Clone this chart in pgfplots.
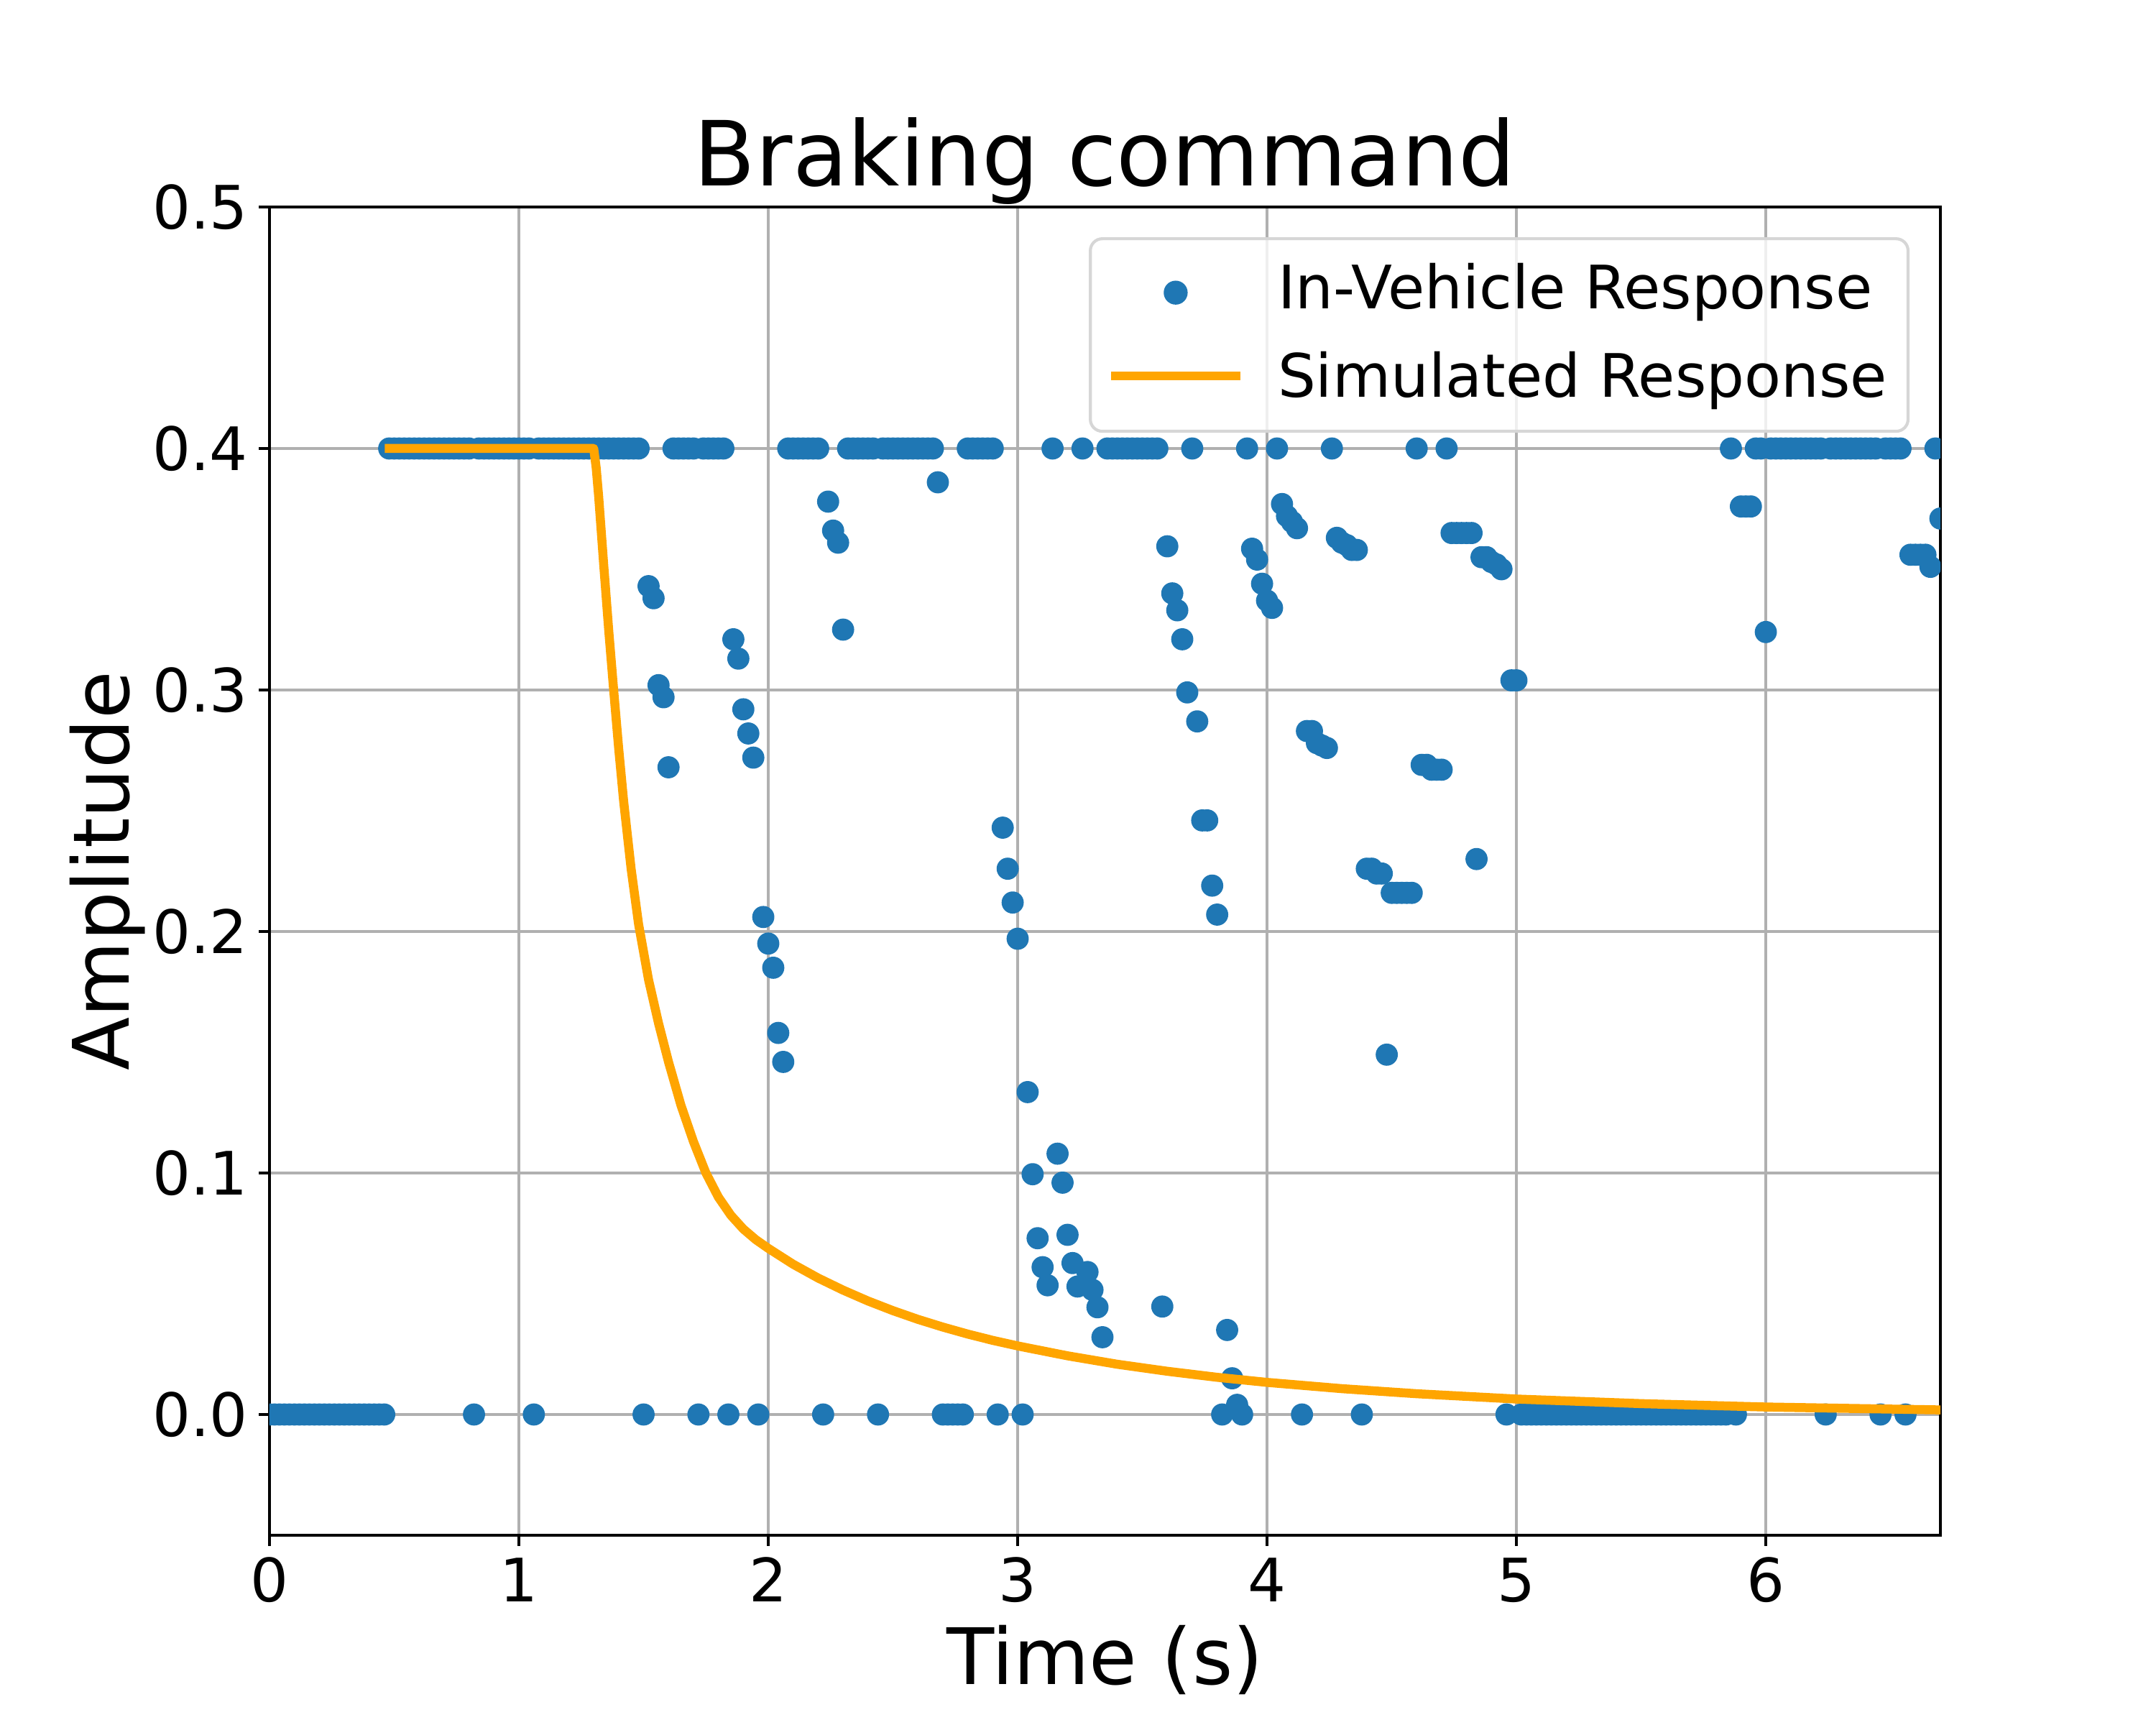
\documentclass[border=0pt]{standalone}
\usepackage{fontspec}
\setmainfont{DejaVu Sans}
\usepackage{pgfplots}
\pgfplotsset{compat=1.18}
\definecolor{c1}{HTML}{1F77B4}
\definecolor{c2}{HTML}{FFA500}
\definecolor{gridc}{HTML}{B0B0B0}
\definecolor{legedge}{HTML}{D6D6D6}
\pgfplotsset{
  dotlegend/.style={legend image code/.code={\draw[mark repeat=2,mark phase=2,##1,opacity=1] plot coordinates {(0bp,-0.6bp) (20bp,-0.6bp) (40bp,-0.6bp)};}},
  linelegend/.style={legend image code/.code={\draw[##1,opacity=1] (0bp,1.1bp) -- (40bp,1.1bp);}},
}
\begin{document}
\begin{tikzpicture}
\begin{axis}[
  at={(0,0)}, anchor=south west,
  scale only axis, width=7.75in, height=6.16in,
  xmin=0, xmax=6.7, ymin=-0.05, ymax=0.5,
  xtick={0,1,2,3,4,5,6}, ytick={0,0.1,0.2,0.3,0.4,0.5},
  grid=major, grid style={color=gridc, line width=0.8bp},
  axis line style={line width=0.8bp, black},
  tick style={line width=0.8bp, black},
  major tick length=3.5bp, tick align=outside, xtick pos=bottom, ytick pos=left,
  /pgf/number format/assume math mode=true,
  tick label style={font=\fontsize{20bp}{24bp}\selectfont},
  y tick label style={/pgf/number format/fixed, /pgf/number format/fixed zerofill, /pgf/number format/precision=1},
  xticklabel style={anchor=base, yshift=-18.8bp},
  yticklabel style={anchor=east, inner sep=0pt, xshift=-3.5bp},
  clip marker paths=true,
  title={Braking command},
  title style={at={(axis description cs:0.5,1)}, anchor=base, yshift=1.0bp, font=\fontsize{30bp}{36bp}\selectfont, inner sep=0pt},
  xlabel={Time (s)},
  xlabel style={at={(axis description cs:0.5,0)}, anchor=base, yshift=-49.7bp, font=\fontsize{26bp}{31bp}\selectfont, inner sep=0pt},
  ylabel={Amplitude},
  ylabel style={at={(axis description cs:-0.0842,0.5)}, anchor=base, font=\fontsize{26bp}{31bp}\selectfont, inner sep=0pt},
  legend cell align=left,
  legend style={at={(axis description cs:1,1)}, anchor=north east, xshift=-10.3bp, yshift=-10.1bp,
    draw=legedge, line width=1bp, rounded corners=4bp, fill=white, fill opacity=0.8, text opacity=1,
    inner xsep=7bp, inner ysep=7.5bp, row sep=9.7bp, column sep=12.6bp,
    nodes={inner sep=0pt, text height=15.8bp, text depth=4bp}, font=\fontsize{20bp}{24bp}\selectfont},
]
\addplot[only marks, mark=*, mark size=3.5bp, color=c1, mark options={draw=none, fill=c1}, dotlegend]
coordinates {
(0.00,0) (0.02,0) (0.04,0) (0.06,0) (0.08,0) (0.10,0) (0.12,0) (0.14,0) (0.16,0) (0.18,0) (0.20,0) (0.22,0)
(0.24,0) (0.26,0) (0.28,0) (0.30,0) (0.32,0) (0.34,0) (0.36,0) (0.38,0) (0.40,0) (0.42,0) (0.44,0) (0.46,0)
(0.48,0.4) (0.50,0.4) (0.52,0.4) (0.54,0.4) (0.56,0.4) (0.58,0.4) (0.60,0.4) (0.62,0.4) (0.64,0.4) (0.66,0.4)
(0.68,0.4) (0.70,0.4) (0.72,0.4) (0.74,0.4) (0.76,0.4) (0.78,0.4) (0.80,0.4) (0.82,0)
(0.84,0.4) (0.86,0.4) (0.88,0.4) (0.90,0.4) (0.92,0.4) (0.94,0.4) (0.96,0.4) (0.98,0.4) (1.00,0.4) (1.02,0.4) (1.04,0.4)
(1.06,0)
(1.08,0.4) (1.10,0.4) (1.12,0.4) (1.14,0.4) (1.16,0.4) (1.18,0.4) (1.20,0.4) (1.22,0.4) (1.24,0.4) (1.26,0.4) (1.28,0.4)
(1.30,0.4) (1.32,0.4) (1.34,0.4) (1.36,0.4) (1.38,0.4) (1.40,0.4) (1.42,0.4) (1.44,0.4) (1.46,0.4) (1.48,0.4)
(1.50,0) (1.52,0.343) (1.54,0.338) (1.56,0.302) (1.58,0.297) (1.60,0.268)
(1.62,0.4) (1.64,0.4) (1.66,0.4) (1.68,0.4) (1.70,0.4) (1.72,0)
(1.74,0.4) (1.76,0.4) (1.78,0.4) (1.80,0.4) (1.82,0.4) (1.84,0)
(1.86,0.321) (1.88,0.313) (1.90,0.292) (1.92,0.282) (1.94,0.272) (1.96,0)
(1.98,0.206) (2.00,0.195) (2.02,0.185) (2.04,0.158) (2.06,0.146)
(2.08,0.4) (2.10,0.4) (2.12,0.4) (2.14,0.4) (2.16,0.4) (2.18,0.4) (2.20,0.4) (2.22,0)
(2.24,0.378) (2.26,0.366) (2.28,0.361) (2.30,0.325)
(2.32,0.4) (2.34,0.4) (2.36,0.4) (2.38,0.4) (2.40,0.4) (2.42,0.4) (2.44,0)
(2.46,0.4) (2.48,0.4) (2.50,0.4) (2.52,0.4) (2.54,0.4) (2.56,0.4) (2.58,0.4) (2.60,0.4) (2.62,0.4) (2.64,0.4) (2.66,0.4)
(2.68,0.386) (2.70,0) (2.72,0) (2.74,0) (2.76,0) (2.78,0)
(2.80,0.4) (2.82,0.4) (2.84,0.4) (2.86,0.4) (2.88,0.4) (2.90,0.4) (2.92,0)
(2.94,0.243) (2.96,0.226) (2.98,0.212) (3.00,0.197) (3.02,0)
(3.04,0.1335) (3.06,0.0995) (3.08,0.073) (3.10,0.061) (3.12,0.0535) (3.14,0.4)
(3.16,0.108) (3.18,0.096) (3.20,0.0744) (3.22,0.0627) (3.24,0.053) (3.26,0.4)
(3.28,0.059) (3.30,0.0516) (3.32,0.0444) (3.34,0.032)
(3.36,0.4) (3.38,0.4) (3.40,0.4) (3.42,0.4) (3.44,0.4) (3.46,0.4) (3.48,0.4) (3.50,0.4) (3.52,0.4) (3.54,0.4) (3.56,0.4)
(3.58,0.0447) (3.60,0.3595) (3.62,0.340) (3.64,0.333) (3.66,0.321) (3.68,0.299) (3.70,0.4)
(3.72,0.287) (3.74,0.246) (3.76,0.246) (3.78,0.219) (3.80,0.207) (3.82,0)
(3.84,0.035) (3.86,0.015) (3.88,0.004) (3.90,0) (3.92,0.4)
(3.94,0.3585) (3.96,0.354) (3.98,0.344) (4.00,0.337) (4.02,0.334) (4.04,0.4)
(4.06,0.377) (4.08,0.372) (4.10,0.3696) (4.12,0.367) (4.14,0)
(4.16,0.283) (4.18,0.283) (4.20,0.278) (4.22,0.277) (4.24,0.276) (4.26,0.4)
(4.28,0.363) (4.30,0.361) (4.32,0.360) (4.34,0.358) (4.36,0.358) (4.38,0)
(4.40,0.226) (4.42,0.226) (4.44,0.224) (4.46,0.224) (4.48,0.149)
(4.50,0.216) (4.52,0.216) (4.54,0.216) (4.56,0.216) (4.58,0.216) (4.60,0.4)
(4.62,0.269) (4.64,0.269) (4.66,0.267) (4.68,0.267) (4.70,0.267) (4.72,0.4)
(4.74,0.365) (4.76,0.365) (4.78,0.365) (4.80,0.365) (4.82,0.365) (4.84,0.230)
(4.86,0.355) (4.88,0.355) (4.90,0.353) (4.92,0.352) (4.94,0.350) (4.96,0) (4.98,0.304) (5.00,0.304)
(5.02,0) (5.04,0) (5.06,0) (5.08,0) (5.10,0) (5.12,0) (5.14,0) (5.16,0) (5.18,0) (5.20,0) (5.22,0)
(5.24,0) (5.26,0) (5.28,0) (5.30,0) (5.32,0) (5.34,0) (5.36,0) (5.38,0) (5.40,0) (5.42,0) (5.44,0)
(5.46,0) (5.48,0) (5.50,0) (5.52,0) (5.54,0) (5.56,0) (5.58,0) (5.60,0) (5.62,0) (5.64,0) (5.66,0)
(5.68,0) (5.70,0) (5.72,0) (5.74,0) (5.76,0) (5.78,0) (5.80,0) (5.82,0) (5.84,0)
(5.86,0.4) (5.88,0) (5.90,0.376) (5.92,0.376) (5.94,0.376) (5.96,0.4) (5.98,0.4) (6.00,0.324)
(6.02,0.4) (6.04,0.4) (6.06,0.4) (6.08,0.4) (6.10,0.4) (6.12,0.4) (6.14,0.4) (6.16,0.4) (6.18,0.4) (6.20,0.4) (6.22,0.4)
(6.24,0)
(6.26,0.4) (6.28,0.4) (6.30,0.4) (6.32,0.4) (6.34,0.4) (6.36,0.4) (6.38,0.4) (6.40,0.4) (6.42,0.4) (6.44,0.4)
(6.46,0) (6.48,0.4) (6.50,0.4) (6.52,0.4) (6.54,0.4) (6.56,0)
(6.58,0.356) (6.60,0.356) (6.62,0.356) (6.64,0.356) (6.66,0.351) (6.68,0.4) (6.70,0.371)
};
\addlegendentry{In-Vehicle Response}
\addplot[color=c2, line width=3bp, line join=round, line cap=rect, no marks, linelegend]
coordinates {
(0.48,0.400) (1.30,0.400) (1.31,0.392) (1.32,0.380) (1.34,0.352) (1.36,0.325) (1.38,0.300)
(1.40,0.276) (1.42,0.254) (1.45,0.226) (1.48,0.203) (1.52,0.180) (1.56,0.162) (1.60,0.146)
(1.65,0.128) (1.70,0.113) (1.75,0.100) (1.80,0.0900) (1.85,0.0825) (1.90,0.0768) (1.95,0.0724)
(2.00,0.0688) (2.10,0.0622) (2.20,0.0565) (2.30,0.0515) (2.40,0.0470) (2.50,0.0430) (2.60,0.0394)
(2.70,0.0362) (2.80,0.0333) (2.90,0.0307) (3.00,0.0284) (3.20,0.0243) (3.40,0.0208) (3.60,0.0179)
(3.80,0.0154) (4.00,0.0133) (4.30,0.0107) (4.60,0.0086) (5.00,0.0064) (5.50,0.0045)
(6.00,0.0031) (6.70,0.0019)
};
\addlegendentry{Simulated Response}
\end{axis}
\pgfresetboundingbox
\path[use as bounding box] (-1.25in,-0.88in) rectangle (8.75in,7.12in);
\end{tikzpicture}
\end{document}
